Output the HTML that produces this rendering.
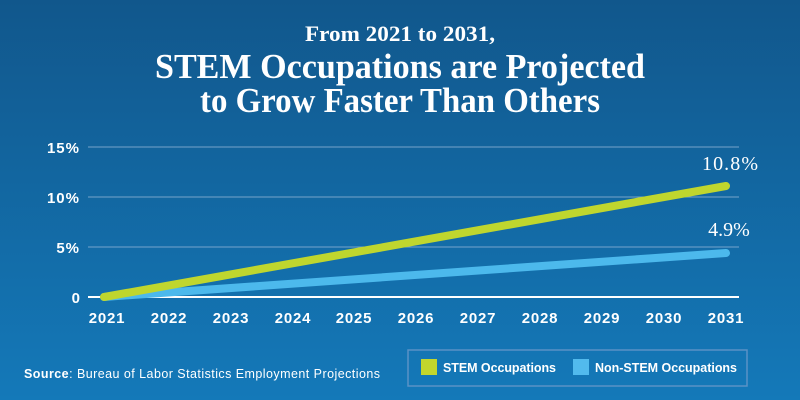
<!DOCTYPE html>
<html><head><meta charset="utf-8"><style>
html,body{margin:0;padding:0;width:800px;height:400px;overflow:hidden}
</style></head><body>
<svg width="800" height="400" xmlns="http://www.w3.org/2000/svg">
<defs><linearGradient id="bg" x1="0" y1="0" x2="0" y2="1">
<stop offset="0" stop-color="#11578c"/><stop offset="1" stop-color="#1479b9"/></linearGradient></defs>
<rect width="800" height="400" fill="url(#bg)"/>
<g font-family="Liberation Serif, serif" font-weight="bold" fill="#fff" text-anchor="middle">
<text x="400" y="41" font-size="22" textLength="190" lengthAdjust="spacingAndGlyphs">From 2021 to 2031,</text>
<text x="400" y="78" font-size="35" textLength="490" lengthAdjust="spacingAndGlyphs">STEM Occupations are Projected</text>
<text x="400" y="112" font-size="35" textLength="400" lengthAdjust="spacingAndGlyphs">to Grow Faster Than Others</text>
</g>
<g stroke="#8fb3d6" stroke-width="1" opacity="0.8">
<line x1="88" y1="147" x2="739" y2="147"/><line x1="88" y1="197" x2="739" y2="197"/><line x1="88" y1="247" x2="739" y2="247"/>
</g>
<line x1="88" y1="297" x2="739" y2="297" stroke="#fff" stroke-width="2"/>
<g font-family="Liberation Sans, sans-serif" font-weight="bold" fill="#fff" font-size="15">
<g text-anchor="end"><text x="80" y="153" letter-spacing="1">15%</text><text x="80" y="203" letter-spacing="1">10%</text><text x="80" y="253" letter-spacing="1">5%</text><text x="80" y="303">0</text></g>
<g text-anchor="middle" letter-spacing="0.8">
<text x="107" y="323">2021</text><text x="169" y="323">2022</text><text x="231" y="323">2023</text><text x="293" y="323">2024</text><text x="354" y="323">2025</text><text x="416" y="323">2026</text><text x="478" y="323">2027</text><text x="540" y="323">2028</text><text x="602" y="323">2029</text><text x="664" y="323">2030</text><text x="726" y="323">2031</text>
</g></g>
<line x1="104" y1="297" x2="726" y2="253" stroke="#4cb9ec" stroke-width="8" stroke-linecap="round"/>
<line x1="104" y1="297" x2="726" y2="186" stroke="#bfd62e" stroke-width="8" stroke-linecap="round"/>
<g font-family="Liberation Serif, serif" fill="#fff" font-size="20" text-anchor="middle">
<text x="730" y="170" textLength="56">10.8%</text><text x="729" y="236">4.9%</text></g>
<text x="24" y="378" font-family="Liberation Sans, sans-serif" font-size="12.5" fill="#fff" textLength="356"><tspan font-weight="bold">Source</tspan>: Bureau of Labor Statistics Employment Projections</text>
<rect x="408" y="350" width="339" height="36" fill="none" stroke="#5a92c6" stroke-width="1.5"/>
<rect x="421" y="359" width="16" height="16" fill="#c2d62c"/>
<rect x="573" y="359" width="16" height="16" fill="#52baed"/>
<g font-family="Liberation Sans, sans-serif" font-size="12.5" font-weight="bold" fill="#fff">
<text x="443" y="372" textLength="113">STEM Occupations</text><text x="595" y="372" textLength="142">Non-STEM Occupations</text></g>
</svg>
</body></html>
